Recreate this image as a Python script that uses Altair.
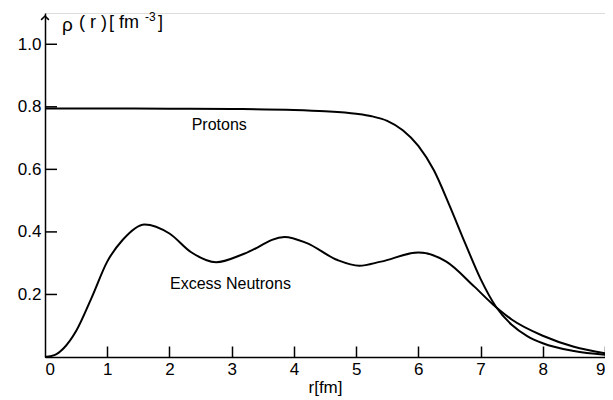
import altair as alt
import pandas as pd

# Proton density rho(r) [fm^-3]
proton_r = [0, 1, 2, 3, 4, 4.5, 5, 5.25, 5.5, 5.75, 6.0, 6.25, 6.5, 6.75, 7.0, 7.25, 7.5, 7.75, 8.0, 8.5, 9.0]
proton_v = [0.795, 0.795, 0.794, 0.793, 0.790, 0.786, 0.778, 0.770, 0.755, 0.725, 0.675, 0.597, 0.485,
            0.365, 0.250, 0.160, 0.103, 0.067, 0.044, 0.019, 0.007]

# Excess-neutron density rho(r) [fm^-3]
neutron_r = [0, 0.15, 0.3, 0.5, 0.75, 1.0, 1.25, 1.6, 2.0, 2.35, 2.75, 3.2, 3.85, 4.2, 4.7, 5.05, 5.4,
             6.0, 6.45, 6.9, 7.2, 7.5, 8.0, 8.5, 9.0]
neutron_v = [0.0, 0.006, 0.028, 0.083, 0.19, 0.305, 0.375, 0.424, 0.395, 0.335, 0.303, 0.330, 0.384,
             0.365, 0.310, 0.292, 0.305, 0.334, 0.305, 0.225, 0.168, 0.120, 0.068, 0.033, 0.012]

x_ticks = [1, 2, 3, 4, 5, 6, 7, 8, 9]
x_labels = [0, 1, 2, 3, 4, 5, 6, 7, 8, 9]
y_ticks = [0.2, 0.4, 0.6, 0.8, 1.0]

labels = ["Protons", "Excess Neutrons"]
label_r = [2.8, 2.98]
label_v = [0.741, 0.233]

W, H = 560, 344
FONT = "Liberation Sans"
TICK = 11

df = pd.concat([
    pd.DataFrame({"r": proton_r, "v": proton_v, "s": "Protons"}),
    pd.DataFrame({"r": neutron_r, "v": neutron_v, "s": "Excess Neutrons"}),
])

xs = alt.Scale(domain=[0, 9], nice=False, zero=False)
ys = alt.Scale(domain=[0, 1.1], nice=False, zero=False)

lines = alt.Chart(df).mark_line(color="black", strokeWidth=2, interpolate="monotone").encode(
    x=alt.X("r:Q", scale=xs, axis=alt.Axis(
        values=x_labels, format="d", title="r[fm]", ticks=False, grid=False,
        labelFontSize=17, labelPadding=4, titleFontSize=17, titleFontWeight="normal",
        titlePadding=2, domainColor="black", domainWidth=1.5, labelColor="black",
        titleColor="black", labelFont=FONT, titleFont=FONT)),
    y=alt.Y("v:Q", scale=ys, axis=alt.Axis(
        values=y_ticks, format=".1f", title=None, ticks=False, grid=False,
        labelFontSize=17, labelPadding=4, domainColor="black", domainWidth=1.5,
        labelColor="black", labelFont=FONT)),
    detail="s:N",
)

# inward x ticks: a second (top-oriented) x axis moved down onto the bottom edge,
# so its ticks point up into the plot
xt = alt.Chart(pd.DataFrame({"xt": x_ticks})).mark_point(opacity=0).encode(
    x=alt.X("xt:Q", scale=xs, axis=alt.Axis(
        orient="top", offset=-H, values=x_ticks, labels=False, domain=False, grid=False,
        ticks=True, tickSize=TICK, tickWidth=1.5, tickColor="black", title=None)),
    y=alt.value(H))

# inward y ticks
yt = alt.Chart(pd.DataFrame({"ytick": y_ticks})).mark_rule(color="black", strokeWidth=1.5).encode(
    y=alt.Y("ytick:Q", scale=ys), x=alt.value(0), x2=alt.value(12))

txt = alt.Chart(pd.DataFrame({"r": label_r, "v": label_v, "l": labels})).mark_text(
    font=FONT, fontSize=16, color="black").encode(
    x=alt.X("r:Q", scale=xs, axis=None), y=alt.Y("v:Q", scale=ys), text="l:N")

arrow = alt.Chart(pd.DataFrame({"a": [0]})).mark_point(
    shape="M -1 1 L 0 0 L 1 1", filled=False, color="black", strokeWidth=1.5, size=60, opacity=1
).encode(x=alt.value(0), y=alt.value(3))


def piece(s, x, y, size):
    return alt.Chart(pd.DataFrame({"l": [s]})).mark_text(
        font=FONT, fontSize=size, color="black", align="left", baseline="middle").encode(
        x=alt.value(x), y=alt.value(y), text="l:N")


ytitle = alt.layer(
    piece("ρ", 17, 12, 19),
    piece("( r )", 34, 10, 18),
    piece("[ fm", 64, 10, 18),
    piece("-3", 100, 4, 12),
    piece("]", 113, 10, 18),
)

chart = alt.layer(lines, xt, yt, txt, arrow, ytitle).resolve_axis(x="independent").properties(
    width=W, height=H,
    autosize=alt.AutoSizeParams(type="none"),
    padding={"left": 37, "top": 5, "right": 0, "bottom": 45},
).configure_view(stroke=None).configure(background="white")

chart.save("out.html", embed_options={"renderer": "svg", "actions": False})
